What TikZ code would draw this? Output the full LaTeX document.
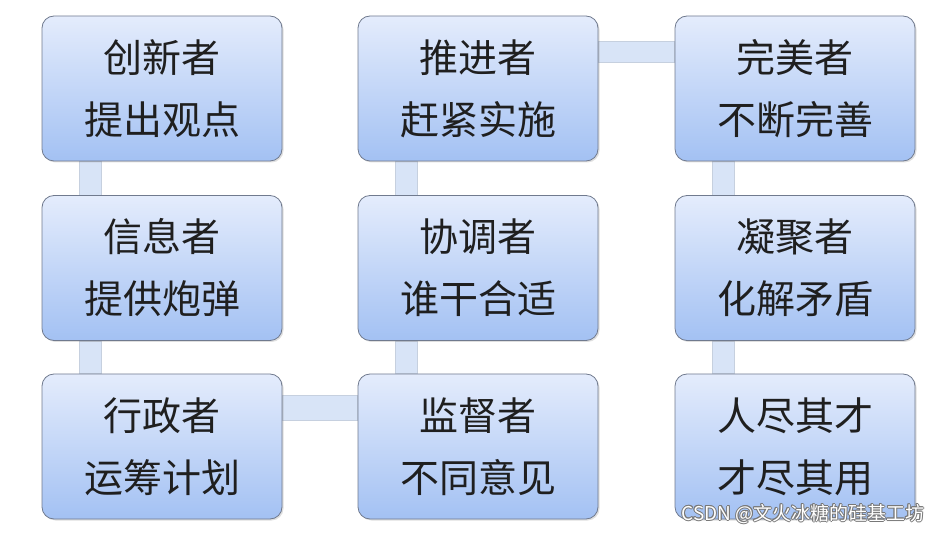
\documentclass[tikz,border=0pt]{standalone}
\usepackage{fontspec}
\newfontfamily\cjk{Noto Sans CJK SC}
\usetikzlibrary{shadows,backgrounds}
\definecolor{boxtop}{RGB}{228,236,252}
\definecolor{boxbot}{RGB}{163,193,243}
\definecolor{boxline}{RGB}{112,122,142}
\definecolor{barfill}{RGB}{216,228,247}
\definecolor{wmline}{RGB}{120,120,120}
\tikzset{
  rolebox/.style={draw=boxline, line width=0.8pt, rounded corners=12pt,
    top color=boxtop, bottom color=boxbot,
    minimum width=240pt, minimum height=145pt, inner sep=0pt,
    font=\cjk\fontsize{39}{62}\selectfont, align=center, text=black!88,
    drop shadow={opacity=0.25, shadow xshift=1.5pt, shadow yshift=-1.5pt}},
  linkbar/.style={fill=barfill, draw=barfill!80!gray, line width=0.4pt},
  wmtext/.style={font=\cjk\fontsize{19}{19}\selectfont, inner sep=0pt}
}
\begin{document}
\begin{tikzpicture}[x=1pt, y=-1pt]
\useasboundingbox (0,0) rectangle (945,534);
% boxes
\node[rolebox] (a1) at (162,88.5) {创新者\\提出观点};
\node[rolebox] (a2) at (162,268) {信息者\\提供炮弹};
\node[rolebox] (a3) at (162,446.5) {行政者\\运筹计划};
\node[rolebox] (b1) at (478,88.5) {推进者\\赶紧实施};
\node[rolebox] (b2) at (478,268) {协调者\\谁干合适};
\node[rolebox] (b3) at (478,446.5) {监督者\\不同意见};
\node[rolebox] (c1) at (795,88.5) {完美者\\不断完善};
\node[rolebox] (c2) at (795,268) {凝聚者\\化解矛盾};
\node[rolebox] (c3) at (795,446.5) {人尽其才\\才尽其用};
% connecting bars
\begin{pgfonlayer}{background}
\draw[linkbar] ([xshift=38pt]a1.south west) rectangle ([xshift=60pt]a2.north west);
\draw[linkbar] ([xshift=38pt]a2.south west) rectangle ([xshift=60pt]a3.north west);
\draw[linkbar] ([yshift=-22pt]a3.north east) rectangle ([yshift=-47pt]b3.north west);
\draw[linkbar] ([xshift=38pt]b2.south west) rectangle ([xshift=60pt]b3.north west);
\draw[linkbar] ([xshift=38pt]b1.south west) rectangle ([xshift=60pt]b2.north west);
\draw[linkbar] ([yshift=-26pt]b1.north east) rectangle ([yshift=-47pt]c1.north west);
\draw[linkbar] ([xshift=38pt]c1.south west) rectangle ([xshift=60pt]c2.north west);
\draw[linkbar] ([xshift=38pt]c2.south west) rectangle ([xshift=60pt]c3.north west);
\end{pgfonlayer}
% watermark
\foreach \dx/\dy in {-0.7/0,0.7/0,0/-0.7,0/0.7,-0.5/-0.5,0.5/0.5,-0.5/0.5,0.5/-0.5}
  \node[wmtext, text=wmline] at (803+\dx,514+\dy) {CSDN @文火冰糖的硅基工坊};
\node[wmtext, text=white] (wm) at (803,514) {CSDN @文火冰糖的硅基工坊};
\end{tikzpicture}
\end{document}
